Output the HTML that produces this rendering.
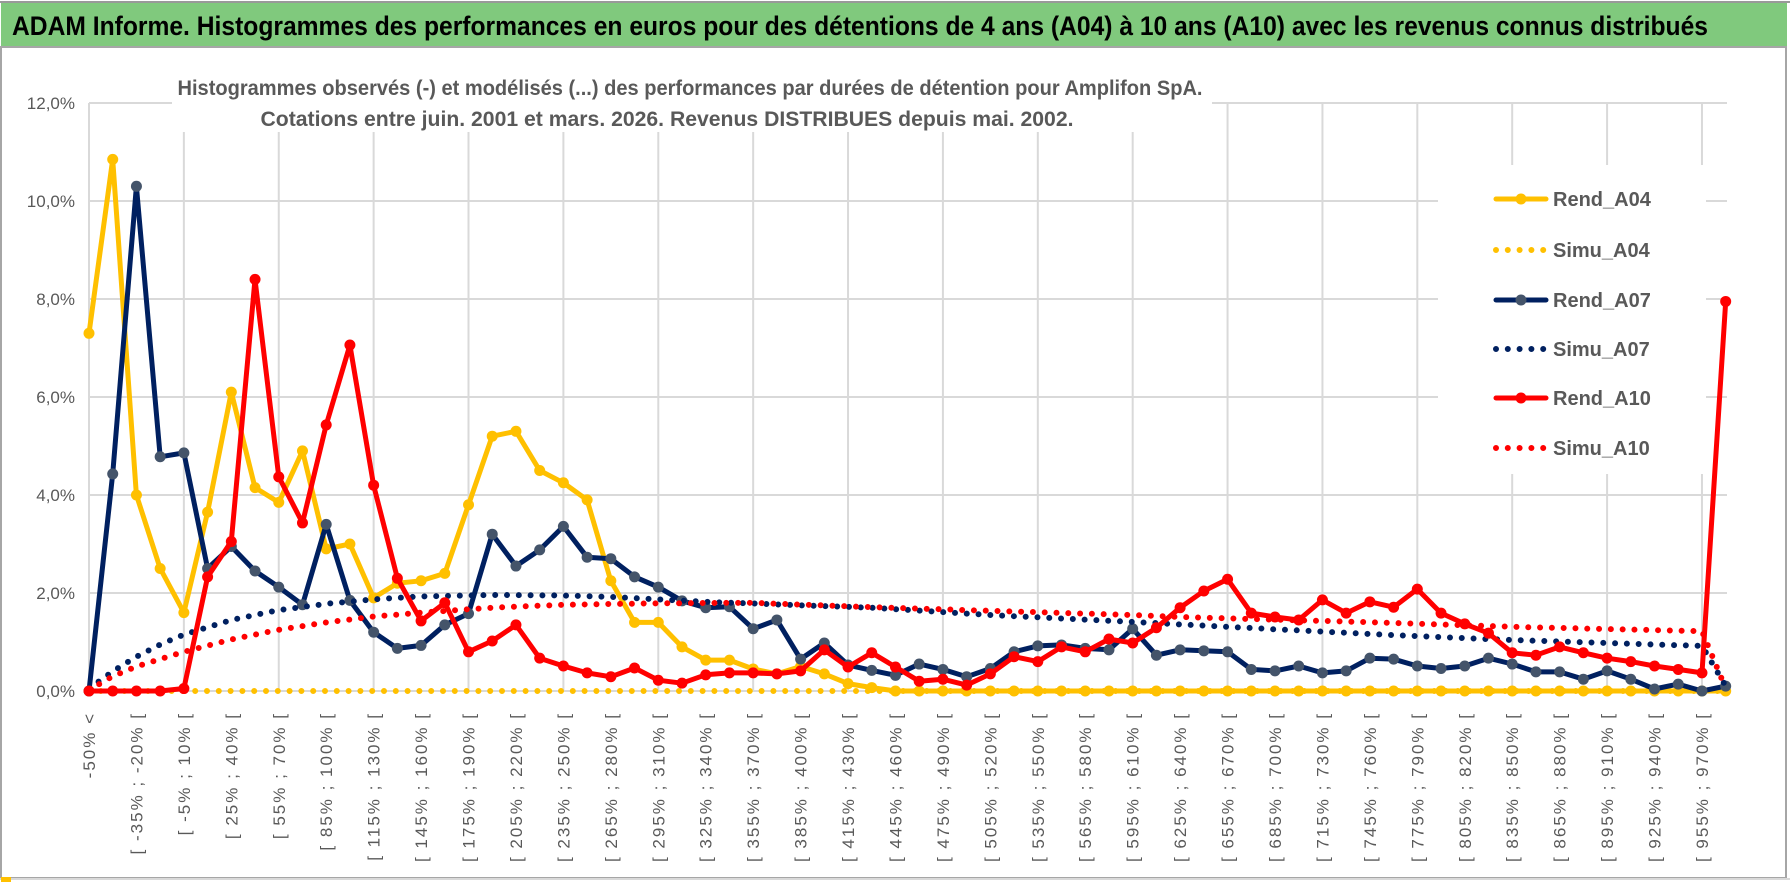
<!DOCTYPE html>
<html><head><meta charset="utf-8"><style>
html,body{margin:0;padding:0;background:#fff;}
svg{display:block;}
</style></head><body>
<svg id="s" width="1790" height="888" viewBox="0 0 1790 888" xmlns="http://www.w3.org/2000/svg" font-family="'Liberation Sans', sans-serif">
<rect x="0" y="0" width="1790" height="888" fill="#fff"/>
<rect x="1" y="2" width="1786" height="44" fill="#80C97D"/>
<line x1="0" y1="2" x2="1790" y2="2" stroke="#999" stroke-width="2"/>
<text x="12" y="35" font-size="27" font-weight="bold" fill="#000" textLength="1696" lengthAdjust="spacingAndGlyphs">ADAM Informe. Histogrammes des performances en euros pour des détentions de 4 ans (A04) à 10 ans (A10) avec les revenus connus distribués</text>
<rect x="1" y="47" width="1785" height="831" fill="none" stroke="#a6a6a6" stroke-width="2"/>
<line x1="0" y1="879" x2="1790" y2="879" stroke="#d9d9d9" stroke-width="2"/>
<rect x="1" y="877" width="10" height="5" fill="#FFC000"/>
<g id="grid"></g>
<rect x="172" y="58" width="1040" height="74" fill="#fff"/>
<rect x="1438" y="165" width="268" height="309" fill="#fff"/>
<text x="690" y="95" font-size="21" font-weight="bold" fill="#595959" text-anchor="middle" textLength="1025" lengthAdjust="spacingAndGlyphs">Histogrammes observés (-) et modélisés (...) des performances par durées de détention pour Amplifon SpA.</text>
<text x="667" y="126" font-size="21" font-weight="bold" fill="#595959" text-anchor="middle" textLength="813" lengthAdjust="spacingAndGlyphs">Cotations entre juin. 2001 et mars. 2026.  Revenus DISTRIBUES depuis mai. 2002.</text>
<g id="labels"></g>
<g id="series"></g>
<g id="legend" font-size="20" font-weight="bold" fill="#595959"></g>
</svg>
<script>
var NS="http://www.w3.org/2000/svg";
function el(t,a,p,txt){var e=document.createElementNS(NS,t);for(var k in a)e.setAttribute(k,a[k]);if(txt!==undefined)e.textContent=txt;(p||document.getElementById('series')).appendChild(e);return e;}
function X(i){return 89+i*23.72;}
function Y(v){return 691-v*49;}
var grid=document.getElementById('grid'),labels=document.getElementById('labels');
for(var g=0;g<=6;g++){var y=Y(g*2);el('line',{x1:89,y1:y,x2:1727,y2:y,stroke:'#d9d9d9','stroke-width':2},grid);
 el('text',{x:75,y:y+6,'font-size':17,fill:'#595959','text-anchor':'end'},labels,(g*2)+',0%');}
for(var i=0;i<=68;i+=4){el('line',{x1:X(i),y1:103,x2:X(i),y2:691,stroke:'#d9d9d9','stroke-width':2},grid);}
for(var i=0;i<70;i+=2){var t;if(i==0)t='-50% <';else{var lo=-50+15*(i-1);t='[ '+lo+'% ; '+(lo+15)+'% [';}
 var x=X(i)+6;el('text',{x:0,y:0,transform:'translate('+x+',712) rotate(-90)','font-size':17,'letter-spacing':2,fill:'#595959','text-anchor':'end'},labels,t);}
var A04=[7.3,10.85,4.0,2.5,1.6,3.65,6.1,4.15,3.85,4.9,2.9,3.0,1.9,2.2,2.25,2.4,3.8,5.2,5.3,4.5,4.25,3.9,2.25,1.4,1.4,0.9,0.63,0.63,0.45,0.35,0.5,0.35,0.15,0.07];
while(A04.length<70)A04.push(0);
var A07=[0,4.43,10.3,4.78,4.86,2.5,2.95,2.45,2.12,1.76,3.4,1.85,1.2,0.87,0.93,1.35,1.58,3.2,2.55,2.88,3.36,2.73,2.7,2.33,2.12,1.84,1.7,1.72,1.27,1.45,0.65,0.98,0.53,0.42,0.32,0.55,0.44,0.29,0.46,0.8,0.92,0.94,0.87,0.84,1.27,0.73,0.84,0.82,0.8,0.44,0.41,0.51,0.37,0.41,0.67,0.65,0.51,0.46,0.51,0.67,0.55,0.39,0.39,0.24,0.41,0.24,0.04,0.14,0,0.1];
var A10=[0,0,0,0,0.05,2.33,3.05,8.4,4.37,3.43,5.43,7.06,4.2,2.3,1.43,1.8,0.8,1.02,1.35,0.67,0.51,0.37,0.29,0.47,0.22,0.16,0.33,0.37,0.37,0.35,0.41,0.84,0.49,0.78,0.49,0.2,0.24,0.12,0.35,0.7,0.6,0.9,0.8,1.06,0.98,1.29,1.7,2.04,2.28,1.59,1.51,1.45,1.86,1.59,1.82,1.71,2.08,1.59,1.37,1.18,0.78,0.73,0.9,0.78,0.67,0.6,0.51,0.44,0.37,7.95];
function interp(k){var out=[];for(var i=0;i<70;i++){for(var j=0;j<k.length-1;j++){if(i>=k[j][0]&&i<=k[j+1][0]){var f=(i-k[j][0])/(k[j+1][0]-k[j][0]);out.push(k[j][1]+f*(k[j+1][1]-k[j][1]));break;}}}return out;}
var S07=interp([[0,0.05],[1,0.4],[2,0.7],[3,0.95],[4,1.15],[6,1.45],[8,1.65],[10,1.78],[12,1.87],[14,1.93],[17,1.96],[20,1.95],[22,1.92],[26,1.82],[30,1.75],[33,1.7],[38,1.55],[44,1.41],[50,1.26],[55,1.14],[60,1.04],[68,0.92],[69,0.1]]);
var S10=interp([[0,0.02],[1,0.3],[2,0.5],[4,0.8],[6,1.05],[8,1.25],[10,1.4],[12,1.52],[14,1.6],[17,1.7],[20,1.76],[24,1.79],[28,1.8],[33,1.71],[44,1.55],[46,1.51],[55,1.39],[60,1.31],[68,1.22],[69,0.05]]);
var S04=[];for(var i=0;i<70;i++)S04.push(0);
function pts(d){return d.map(function(v,i){return X(i).toFixed(1)+','+Y(v).toFixed(1);}).join(' ');}
function solid(d,c,m){el('polyline',{points:pts(d),fill:'none',stroke:c,'stroke-width':5,'stroke-linejoin':'round'});d.forEach(function(v,i){el('circle',{cx:X(i),cy:Y(v),r:5.5,fill:m});});}
function dotted(d,c){el('polyline',{points:pts(d),fill:'none',stroke:c,'stroke-width':6,'stroke-linecap':'round','stroke-dasharray':'0 11.8'});}
solid(A04,'#FFC000','#FFC000');dotted(S04,'#FFC000');
solid(A07,'#002060','#44546A');dotted(S07,'#002060');
solid(A10,'#FF0000','#FF0000');dotted(S10,'#FF0000');
var lg=document.getElementById('legend');
var L=[['Rend_A04','#FFC000','#FFC000',0],['Simu_A04','#FFC000',0,1],['Rend_A07','#002060','#44546A',0],['Simu_A07','#002060',0,1],['Rend_A10','#FF0000','#FF0000',0],['Simu_A10','#FF0000',0,1]];
var ys=[199,250,300,349,398,448];
L.forEach(function(l,k){var y=ys[k];
 if(!l[3]){el('line',{x1:1496,y1:y,x2:1546,y2:y,stroke:l[1],'stroke-width':5,'stroke-linecap':'round'},lg);el('circle',{cx:1521,cy:y,r:5.5,fill:l[2]},lg);}
 else{el('line',{x1:1496,y1:y,x2:1546,y2:y,stroke:l[1],'stroke-width':6,'stroke-linecap':'round','stroke-dasharray':'0 11.8'},lg);}
 el('text',{x:1553,y:y+7},lg,l[0]);});
</script>
</body></html>
